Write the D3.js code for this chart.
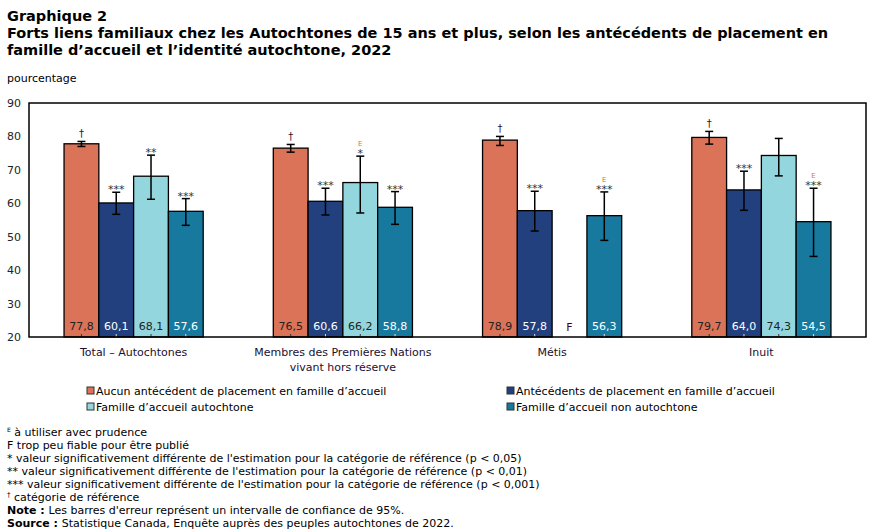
<!DOCTYPE html>
<html>
<head>
<meta charset="utf-8">
<script src="https://cdn.jsdelivr.net/npm/d3@7"></script>
<style>
  body { margin: 0; background: #fff; }
  svg { font-family: Verdana, "DejaVu Sans", sans-serif; }
</style>
</head>
<body>
<svg id="chart" width="869" height="530"></svg>
<script>
// data
let categories = ['Total – Autochtones', 'Membres des Premières Nations|vivant hors réserve', 'Métis', 'Inuit'];
let seriesNames = [
  'Aucun antécédent de placement en famille d’accueil',
  'Antécédents de placement en famille d’accueil',
  'Famille d’accueil autochtone',
  'Famille d’accueil non autochtone'
];
let seriesColors = ['#db7358', '#223f7e', '#93d6de', '#18799f'];
let labelColors = ['#222', '#fff', '#222', '#fff'];

let noPlacement = [77.8, 76.5, 78.9, 79.7];
let placement = [60.1, 60.6, 57.8, 64.0];
let autochtone = [68.1, 66.2, null, 74.3];
let nonAutochtone = [57.6, 58.8, 56.3, 54.5];

let noPlacementLow = [77.0, 75.3, 77.3, 77.7];
let noPlacementHigh = [78.5, 77.6, 80.0, 81.5];
let placementLow = [56.7, 56.5, 51.7, 57.9];
let placementHigh = [63.3, 64.5, 63.6, 69.6];
let autochtoneLow = [61.2, 57.1, null, 68.2];
let autochtoneHigh = [74.4, 74.1, null, 79.4];
let nonAutochtoneLow = [53.4, 53.7, 48.9, 44.1];
let nonAutochtoneHigh = [61.4, 63.5, 63.4, 64.5];

let noPlacementMarks = ['†', '†', '†', '†'];
let placementMarks = ['***', '***', '***', '***'];
let autochtoneMarks = ['**', '*', '', ''];
let nonAutochtoneMarks = ['***', '***', '***', '***'];
let autochtoneE = [false, true, false, false];
let nonAutochtoneE = [false, false, true, true];

let yTicks = [20, 30, 40, 50, 60, 70, 80, 90];

let footnotes = [
  'F trop peu fiable pour être publié',
  '* valeur significativement différente de l\'estimation pour la catégorie de référence (p < 0,05)',
  '** valeur significativement différente de l\'estimation pour la catégorie de référence (p <  0,01)',
  '*** valeur significativement différente de l\'estimation pour la catégorie de référence (p < 0,001)'
];

let series = [
  {vals: noPlacement, low: noPlacementLow, high: noPlacementHigh, marks: noPlacementMarks, e: [false, false, false, false]},
  {vals: placement, low: placementLow, high: placementHigh, marks: placementMarks, e: [false, false, false, false]},
  {vals: autochtone, low: autochtoneLow, high: autochtoneHigh, marks: autochtoneMarks, e: autochtoneE},
  {vals: nonAutochtone, low: nonAutochtoneLow, high: nonAutochtoneHigh, marks: nonAutochtoneMarks, e: nonAutochtoneE}
];

let svg = d3.select('#chart');
let plot = {left: 29, right: 866, top: 103, bottom: 337};

// titles
svg.append('text').attr('x', 7).attr('y', 21).attr('font-weight', 'bold').attr('font-size', 14.5)
  .attr('fill', '#000').text('Graphique 2');
svg.append('text').attr('x', 7).attr('y', 38).attr('font-weight', 'bold').attr('font-size', 14.5)
  .text('Forts liens familiaux chez les Autochtones de 15 ans et plus, selon les antécédents de placement en');
svg.append('text').attr('x', 7).attr('y', 55).attr('font-weight', 'bold').attr('font-size', 14.5)
  .text('famille d’accueil et l’identité autochtone, 2022');
svg.append('text').attr('x', 7).attr('y', 82).attr('font-size', 11).text('pourcentage');

let x0 = d3.scaleBand().domain(d3.range(categories.length)).range([plot.left, plot.right]).paddingInner(0.335).paddingOuter(0.1675);
let x1 = d3.scaleBand().domain(d3.range(series.length)).range([0, x0.bandwidth()]);
let y = d3.scaleLinear().domain([20, 90]).range([plot.bottom, plot.top]);

// y axis
let yAxis = svg.append('g').attr('transform', 'translate(' + plot.left + ',0)')
  .call(d3.axisLeft(y).tickValues(yTicks).tickSize(0).tickPadding(8));
yAxis.select('.domain').remove();
yAxis.selectAll('text').attr('font-size', 11).attr('font-family', 'Verdana, "DejaVu Sans", sans-serif').attr('fill', '#222');

// bars
let groups = svg.append('g');
series.forEach(function(s, si) {
  for (let ci = 0; ci < categories.length; ci++) {
    let bx = x0(ci) + x1(si);
    let cx = bx + x1.bandwidth() / 2;
    if (s.vals[ci] === null) {
      groups.append('text').attr('x', cx).attr('y', plot.bottom - 6).attr('text-anchor', 'middle')
        .attr('font-size', 11).attr('fill', '#400020').text('F');
      continue;
    }
    groups.append('rect').attr('x', bx).attr('y', y(s.vals[ci]))
      .attr('width', x1.bandwidth()).attr('height', y(20) - y(s.vals[ci]))
      .attr('fill', seriesColors[si]).attr('stroke', '#000').attr('stroke-width', 1.3);
    groups.append('line').attr('x1', cx).attr('x2', cx).attr('y1', plot.bottom).attr('y2', plot.bottom - 3)
      .attr('stroke', labelColors[si] == '#fff' ? '#ddd' : '#333').attr('stroke-width', 1);
    groups.append('text').attr('x', cx).attr('y', plot.bottom - 7).attr('text-anchor', 'middle')
      .attr('font-size', 11).attr('fill', labelColors[si]).text(d3.format('.1f')(s.vals[ci]).replace('.', ','));

    // error bar
    let yl = y(s.low[ci]), yh = y(s.high[ci]);
    groups.append('line').attr('x1', cx).attr('x2', cx).attr('y1', yl).attr('y2', yh).attr('stroke', '#000').attr('stroke-width', 1.5);
    groups.append('line').attr('x1', cx - 4).attr('x2', cx + 4).attr('y1', yl).attr('y2', yl).attr('stroke', '#000').attr('stroke-width', 1.5);
    groups.append('line').attr('x1', cx - 4).attr('x2', cx + 4).attr('y1', yh).attr('y2', yh).attr('stroke', '#000').attr('stroke-width', 1.5);

    let m = s.marks[ci];
    if (m == '†') {
      groups.append('text').attr('x', cx).attr('y', yh - 4).attr('text-anchor', 'middle')
        .attr('font-size', 10).attr('fill', '#301030').text(m);
    } else if (m) {
      groups.append('text').attr('x', cx).attr('y', yh + 1).attr('text-anchor', 'middle')
        .attr('font-size', 11).attr('fill', '#333').text(m);
    }
    if (s.e[ci]) {
      groups.append('text').attr('x', cx).attr('y', yh - 10).attr('text-anchor', 'middle')
        .attr('font-size', 7).attr('fill', '#d07a30').text('E');
    }
  }
});

// frame
svg.append('rect').attr('x', plot.left).attr('y', plot.top)
  .attr('width', plot.right - plot.left).attr('height', plot.bottom - plot.top)
  .attr('fill', 'none').attr('stroke', '#000').attr('stroke-width', 1.5);

// category labels
categories.forEach(function(c, ci) {
  let lines = c.split('|');
  lines.forEach(function(l, li) {
    svg.append('text').attr('x', x0(ci) + x0.bandwidth() / 2).attr('y', 356 + li * 15)
      .attr('text-anchor', 'middle').attr('font-size', 11).attr('fill', '#1a1030').text(l);
  });
});

// legend
let legendPos = [[87, 391], [507, 391], [87, 407], [507, 407]];
seriesNames.forEach(function(n, i) {
  let g = svg.append('g').attr('transform', 'translate(' + legendPos[i][0] + ',' + legendPos[i][1] + ')');
  g.append('rect').attr('x', 0).attr('y', -4).attr('width', 7).attr('height', 7)
    .attr('fill', seriesColors[i]).attr('stroke', '#333').attr('stroke-width', 1);
  g.append('text').attr('x', 9).attr('y', 4).attr('font-size', 11).attr('fill', '#000').text(n);
});

// footnotes
let fy = 436;
let e = svg.append('text').attr('x', 7).attr('y', fy).attr('font-size', 11);
e.append('tspan').attr('font-size', 6).attr('dy', -4).text('E');
e.append('tspan').attr('dy', 4).text(' à utiliser avec prudence');
footnotes.forEach(function(f, i) {
  svg.append('text').attr('x', 7).attr('y', fy + 13 * (i + 1)).attr('font-size', 11).text(f);
});
let dag = svg.append('text').attr('x', 7).attr('y', fy + 13 * 5).attr('font-size', 11);
dag.append('tspan').attr('font-size', 7).attr('dy', -4).text('†');
dag.append('tspan').attr('dy', 4).text(' catégorie de référence');
let note = svg.append('text').attr('x', 7).attr('y', fy + 13 * 6).attr('font-size', 11);
note.append('tspan').attr('font-weight', 'bold').text('Note : ');
note.append('tspan').text('Les barres d\'erreur représent un intervalle de confiance de 95%.');
let src = svg.append('text').attr('x', 7).attr('y', fy + 13 * 7 - 0.5).attr('font-size', 11);
src.append('tspan').attr('font-weight', 'bold').text('Source : ');
src.append('tspan').text('Statistique Canada, Enquête auprès des peuples autochtones de 2022.');
</script>
</body>
</html>
